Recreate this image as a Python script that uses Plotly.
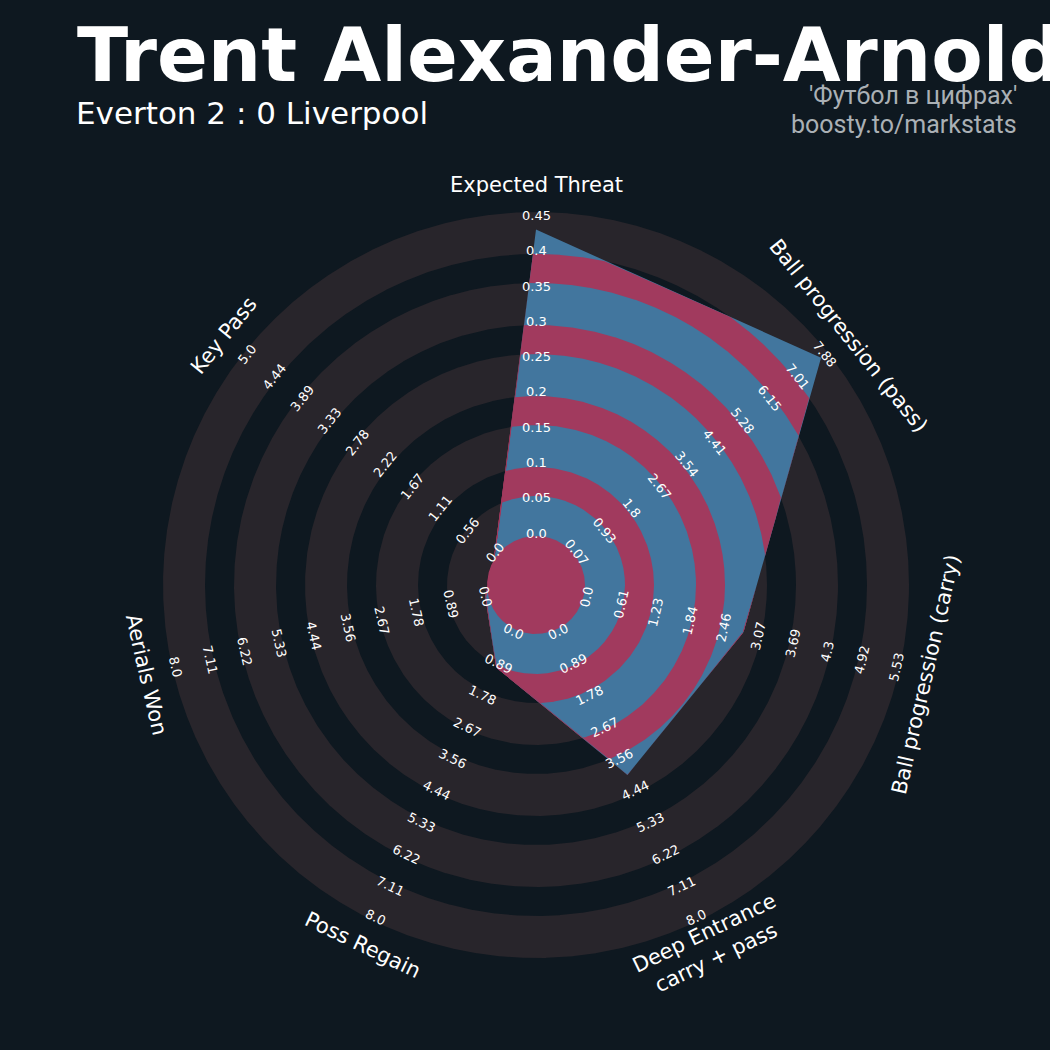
import numpy as np
import plotly.graph_objects as go

# ---------------- data ----------------
params = ["Expected Threat", "Ball progression (pass)", "Ball progression (carry)",
          "Deep Entrance<br>carry + pass", "Poss Regain", "Aerials Won", "Key Pass"]
values = [0.43, 7.76, 2.80, 4.0, 1.0, 0.0, 0.0]
min_range = [0.0, 0.07, 0.0, 0.0, 0.0, 0.0, 0.0]
max_range = [0.45, 7.88, 5.53, 8.0, 8.0, 8.0, 5.0]

labels_xt = ["0.0", "0.05", "0.1", "0.15", "0.2", "0.25", "0.3", "0.35", "0.4", "0.45"]
labels_pass = ["0.07", "0.93", "1.8", "2.67", "3.54", "4.41", "5.28", "6.15", "7.01", "7.88"]
labels_carry = ["0.0", "0.61", "1.23", "1.84", "2.46", "3.07", "3.69", "4.3", "4.92", "5.53"]
labels_deep = ["0.0", "0.89", "1.78", "2.67", "3.56", "4.44", "5.33", "6.22", "7.11", "8.0"]
labels_regain = ["0.0", "0.89", "1.78", "2.67", "3.56", "4.44", "5.33", "6.22", "7.11", "8.0"]
labels_aerial = ["0.0", "0.89", "1.78", "2.67", "3.56", "4.44", "5.33", "6.22", "7.11", "8.0"]
labels_key = ["0.0", "0.56", "1.11", "1.67", "2.22", "2.78", "3.33", "3.89", "4.44", "5.0"]
range_labels = [labels_xt, labels_pass, labels_carry, labels_deep, labels_regain, labels_aerial, labels_key]

title = "Trent Alexander-Arnold"
subtitle = "Everton 2 : 0 Liverpool"
credit1 = "'Футбол в цифрах'"
credit2 = "boosty.to/markstats"

# ---------------- style ----------------
BG = "#0e1820"
RING = "#28252b"
BLUE = "#42769e"
PINK = "#a13a5e"
R0, R9 = 52.0, 369.5          # radius of min / max value
LABEL_R = 400
CENTER_R = 49
GREY_RINGS = [(49, 89), (118, 160), (189, 231), (260, 302), (331, 373)]
PINK_BANDS = [(89, 118), (160, 189), (231, 260), (302, 331)]

n = len(params)
ang_deg = 90 - np.arange(n) * 360 / n
ang = np.deg2rad(ang_deg)


def scale(v, lo, hi):
    return R0 + (v - lo) / (hi - lo) * (R9 - R0)


rv = np.array([scale(v, lo, hi) for v, lo, hi in zip(values, min_range, max_range)])
vx = rv * np.cos(ang)
vy = rv * np.sin(ang)


def radar_radius(theta):
    d = np.stack([np.cos(theta), np.sin(theta)], axis=1)
    out = np.zeros(len(theta))
    for k in range(n):
        p1 = np.array([vx[k], vy[k]])
        p2 = np.array([vx[(k + 1) % n], vy[(k + 1) % n]])
        e = p2 - p1
        den = d[:, 0] * e[1] - d[:, 1] * e[0]
        with np.errstate(divide="ignore", invalid="ignore"):
            t = (p1[0] * e[1] - p1[1] * e[0]) / den
            s = (p1[0] * d[:, 1] - p1[1] * d[:, 0]) / den
        ok = (s >= -1e-9) & (s <= 1 + 1e-9) & (t > 0)
        out = np.where(ok, np.maximum(out, np.nan_to_num(t)), out)
    return out


theta = np.sort(np.concatenate([np.linspace(0, 2 * np.pi, 2880), np.mod(ang, 2 * np.pi)]))
R_clip = radar_radius(theta)


def band(r_in, r_out, clip=None):
    ro = np.full(len(theta), float(r_out))
    ri = np.full(len(theta), float(r_in))
    if clip is not None:
        ro = np.minimum(ro, clip)
        ri = np.minimum(ri, clip)
    x = np.concatenate([ro * np.cos(theta), (ri * np.cos(theta))[::-1]])
    y = np.concatenate([ro * np.sin(theta), (ri * np.sin(theta))[::-1]])
    return x, y


fig = go.Figure()


def add_fill(x, y, color):
    fig.add_trace(go.Scatter(x=x, y=y, mode="lines", fill="toself", fillcolor=color,
                             line=dict(width=0, color=color), hoverinfo="skip"))


for a, b in GREY_RINGS:
    add_fill(*band(a, b), RING)

# radar polygon
fig.add_trace(go.Scatter(x=np.append(vx, vx[0]), y=np.append(vy, vy[0]), mode="lines",
                         fill="toself", fillcolor=BLUE, line=dict(width=0, color=BLUE),
                         hoverinfo="skip"))
for a, b in PINK_BANDS:
    add_fill(*band(a, b, R_clip), PINK)
add_fill(*band(0, CENTER_R), PINK)

annotations = []


def text_angle(a):
    rot = a - 90
    rot = (rot + 180) % 360 - 180
    if rot > 90:
        rot -= 180
    elif rot < -90:
        rot += 180
    return -rot


for k in range(n):
    ta = text_angle(ang_deg[k])
    for i, lab in enumerate(range_labels[k]):
        r = R0 + i * (R9 - R0) / 9
        annotations.append(dict(x=r * np.cos(ang[k]), y=r * np.sin(ang[k]), xref="x", yref="y",
                                text=lab, showarrow=False, textangle=ta,
                                xanchor="center", yanchor="middle",
                                font=dict(family="DejaVu Sans", size=13, color="#ffffff")))
    annotations.append(dict(x=LABEL_R * np.cos(ang[k]), y=LABEL_R * np.sin(ang[k]), xref="x", yref="y",
                            text=params[k], showarrow=False, textangle=ta,
                            xanchor="center", yanchor="middle",
                            font=dict(family="DejaVu Sans", size=21, color="#ffffff")))

annotations += [
    dict(x=75 / 1050, y=1 - 55 / 1050, xref="paper", yref="paper", text=title, showarrow=False,
         xanchor="left", yanchor="middle",
         font=dict(family="DejaVu Sans", size=75, color="#ffffff", weight="bold")),
    dict(x=74 / 1050, y=1 - 113 / 1050, xref="paper", yref="paper", text=subtitle, showarrow=False,
         xanchor="left", yanchor="middle",
         font=dict(family="DejaVu Sans", size=31, color="#ffffff")),
    dict(x=1019 / 1050, y=1 - 96 / 1050, xref="paper", yref="paper", text=credit1, showarrow=False,
         xanchor="right", yanchor="middle",
         font=dict(family="Roboto", size=25, color="#aab0b5")),
    dict(x=1019 / 1050, y=1 - 124 / 1050, xref="paper", yref="paper", text=credit2, showarrow=False,
         xanchor="right", yanchor="middle",
         font=dict(family="Roboto", size=25, color="#aab0b5")),
]

fig.update_layout(
    width=1050, height=1050, margin=dict(l=0, r=0, t=0, b=0),
    paper_bgcolor=BG, plot_bgcolor=BG, showlegend=False,
    xaxis=dict(range=[-536, 514], visible=False, fixedrange=True),
    yaxis=dict(range=[-465, 585], visible=False, fixedrange=True),
    annotations=annotations,
)

fig.write_html("out.html", config={"displayModeBar": False},
               post_script="document.body.style.margin='0';")
